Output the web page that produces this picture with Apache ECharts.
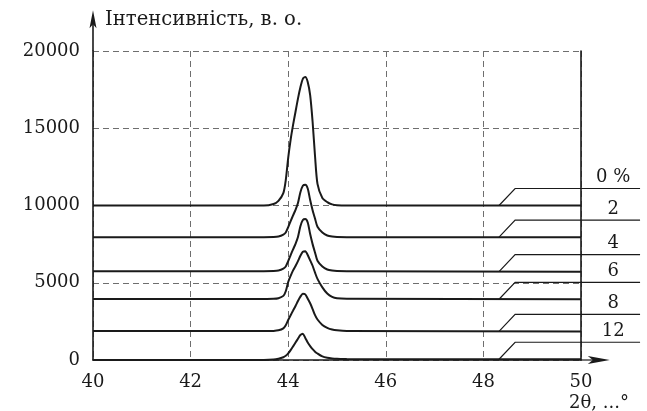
<!DOCTYPE html>
<html>
<head>
<meta charset="utf-8">
<script src="https://cdn.jsdelivr.net/npm/echarts@6.0.0/dist/echarts.min.js"></script>
<style>
  html, body { margin: 0; padding: 0; background: #fff; }
  #chart { width: 647px; height: 411px; }
</style>
</head>
<body>
<div id="chart"></div>
<script>
// 2θ positions (degrees) shared by all diffraction curves
const twoTheta = [40, 43.5, 43.7, 43.8, 43.9, 43.95, 44.0, 44.05, 44.1, 44.15, 44.2, 44.25, 44.3, 44.35, 44.4, 44.45, 44.5, 44.55, 44.6, 44.7, 44.8, 44.9, 45.0, 45.2, 50];

// intensity, a.u. (curves are offset vertically in the original figure)
const int0  = [10000, 10000, 10100, 10300, 10800, 11640, 13090, 14270, 15220, 16070, 16920, 17650, 18200, 18320, 18000, 17140, 15420, 13190, 11400, 10480, 10220, 10070, 10020, 10000, 10000];
const int2  = [7950, 7950, 7960, 7990, 8110, 8250, 8600, 8990, 9360, 9720, 10160, 10860, 11280, 11340, 11100, 10350, 9700, 9150, 8620, 8250, 8060, 7990, 7960, 7950, 7950];
const int4  = [5750, 5750, 5760, 5790, 5910, 6050, 6400, 6790, 7160, 7520, 7960, 8660, 9060, 9120, 8900, 8150, 7500, 6950, 6420, 6050, 5860, 5790, 5760, 5750, 5720];
const int6  = [3950, 3950, 3960, 4000, 4150, 4450, 5050, 5450, 5800, 6080, 6400, 6750, 7000, 7040, 6800, 6450, 6100, 5650, 5250, 4700, 4300, 4080, 3990, 3960, 3930];
const int8  = [1875, 1875, 1885, 1920, 2050, 2250, 2590, 2900, 3200, 3500, 3820, 4100, 4290, 4250, 3970, 3670, 3300, 2900, 2620, 2270, 2080, 1970, 1920, 1880, 1850];
const int12 = [0, 0, 25, 80, 180, 270, 430, 640, 880, 1130, 1380, 1620, 1700, 1430, 1130, 900, 700, 540, 420, 230, 140, 100, 80, 60, 50];

const curves = [int0, int2, int4, int6, int8, int12];
const concLabels = ['0 %', '2', '4', '6', '8', '12'];

const xTicks = { min: 40, max: 50, step: 2 };
const yTicks = { min: 0, max: 20000, step: 5000 };

// leader lines going to the labels at the right (in data units)
const leaderFrom = 48.32, leaderKnee = 48.65, labelAt = 50.66, leaderTo = 51.21, leaderRise = 1100;
// where the axis arrows end
const yArrowTip = 22630, xArrowTip = 50.59;

const font = 'DejaVu Serif';
const ink = '#1a1a1a';

const chart = echarts.init(document.getElementById('chart'));

const curveSeries = curves.map((vals, i) => ({
  type: 'line',
  name: concLabels[i],
  data: twoTheta.map((x, k) => [x, vals[k]]),
  smooth: 0.25,
  symbol: 'none',
  lineStyle: { color: ink, width: 2 },
  z: 3
}));

// labels with their leader lines
const leaderSeries = {
  type: 'custom',
  silent: true,
  clip: false,
  z: 2,
  data: curves.map((vals, i) => [leaderFrom, vals[vals.length - 1], i]),
  renderItem: function (params, api) {
    const base = api.value(1);
    const top = base + leaderRise;
    const p0 = api.coord([leaderFrom, base]);
    const p1 = api.coord([leaderKnee, top]);
    const p2 = api.coord([leaderTo, top]);
    const pl = api.coord([labelAt, top]);
    return {
      type: 'group',
      children: [
        {
          type: 'polyline',
          shape: { points: [p0, p1, p2] },
          style: { stroke: ink, lineWidth: 1.2, fill: null }
        },
        {
          type: 'text',
          x: pl[0], y: pl[1] - 2,
          style: {
            text: concLabels[api.value(2)],
            fill: ink, font: '18px "' + font + '"',
            textAlign: 'center', textVerticalAlign: 'bottom'
          }
        }
      ]
    };
  }
};

// extended axes with arrow heads
const arrowSeries = {
  type: 'custom',
  silent: true,
  clip: false,
  z: 4,
  data: [[xTicks.min, yTicks.min]],
  renderItem: function (params, api) {
    const yTop = api.coord([xTicks.min, yTicks.max]);
    const yTip = api.coord([xTicks.min, yArrowTip]);
    const xEnd = api.coord([xTicks.max, yTicks.min]);
    const xTip = api.coord([xArrowTip, yTicks.min]);
    return {
      type: 'group',
      children: [
        { type: 'line', shape: { x1: yTop[0], y1: yTop[1], x2: yTip[0], y2: yTip[1] + 8 }, style: { stroke: ink, lineWidth: 1.6 } },
        {
          type: 'polygon',
          shape: { points: [[yTip[0], yTip[1]], [yTip[0] - 3.5, yTip[1] + 18], [yTip[0], yTip[1] + 14], [yTip[0] + 3.5, yTip[1] + 18]] },
          style: { fill: ink }
        },
        { type: 'line', shape: { x1: xEnd[0], y1: xEnd[1], x2: xTip[0] - 6, y2: xTip[1] }, style: { stroke: ink, lineWidth: 1.2 } },
        {
          type: 'polygon',
          shape: { points: [[xTip[0], xTip[1]], [xTip[0] - 22, xTip[1] - 4], [xTip[0] - 17, xTip[1]], [xTip[0] - 22, xTip[1] + 4]] },
          style: { fill: ink }
        }
      ]
    };
  }
};

const dashed = { type: [6, 4], color: '#6e6e6e', width: 1 };

const option = {
  animation: false,
  backgroundColor: '#fff',
  grid: { left: 93, right: 66, top: 51, bottom: 51, outerBoundsMode: 'none' },
  xAxis: [
    {
      type: 'value',
      min: xTicks.min, max: xTicks.max, interval: xTicks.step,
      axisLine: { show: false },
      axisTick: { show: false },
      axisLabel: { margin: 13, color: ink, fontFamily: font, fontSize: 18 },
      splitLine: { show: true, lineStyle: dashed },
      name: '2θ, ...°',
      nameLocation: 'end',
      nameGap: -12,
      nameTextStyle: { align: 'left', verticalAlign: 'top', padding: [34, 0, 0, 0], color: ink, fontFamily: font, fontSize: 18 }
    },
    {
      type: 'value', position: 'top',
      min: xTicks.min, max: xTicks.max, interval: xTicks.step,
      axisLine: { show: true, lineStyle: { color: ink, width: 1.6 } },
      axisTick: { show: false }, axisLabel: { show: false }, splitLine: { show: false }
    }
  ],
  yAxis: [
    {
      type: 'value',
      min: yTicks.min, max: yTicks.max, interval: yTicks.step,
      axisLine: { show: true, lineStyle: { color: ink, width: 1.6 } },
      axisTick: { show: false },
      axisLabel: { margin: 13, color: ink, fontFamily: font, fontSize: 18, formatter: v => String(v) },
      splitLine: { show: true, lineStyle: dashed },
      name: 'Інтенсивність, в. о.',
      nameLocation: 'end',
      nameGap: 21,
      nameTextStyle: { align: 'left', padding: [0, 0, 0, 12], color: ink, fontFamily: font, fontSize: 19.6 }
    },
    {
      type: 'value', position: 'right',
      min: yTicks.min, max: yTicks.max, interval: yTicks.step,
      axisLine: { show: true, lineStyle: { color: ink, width: 1.6 } },
      axisTick: { show: false }, axisLabel: { show: false }, splitLine: { show: false }
    }
  ],
  series: [...curveSeries, leaderSeries, arrowSeries]
};

chart.setOption(option);
</script>
</body>
</html>
